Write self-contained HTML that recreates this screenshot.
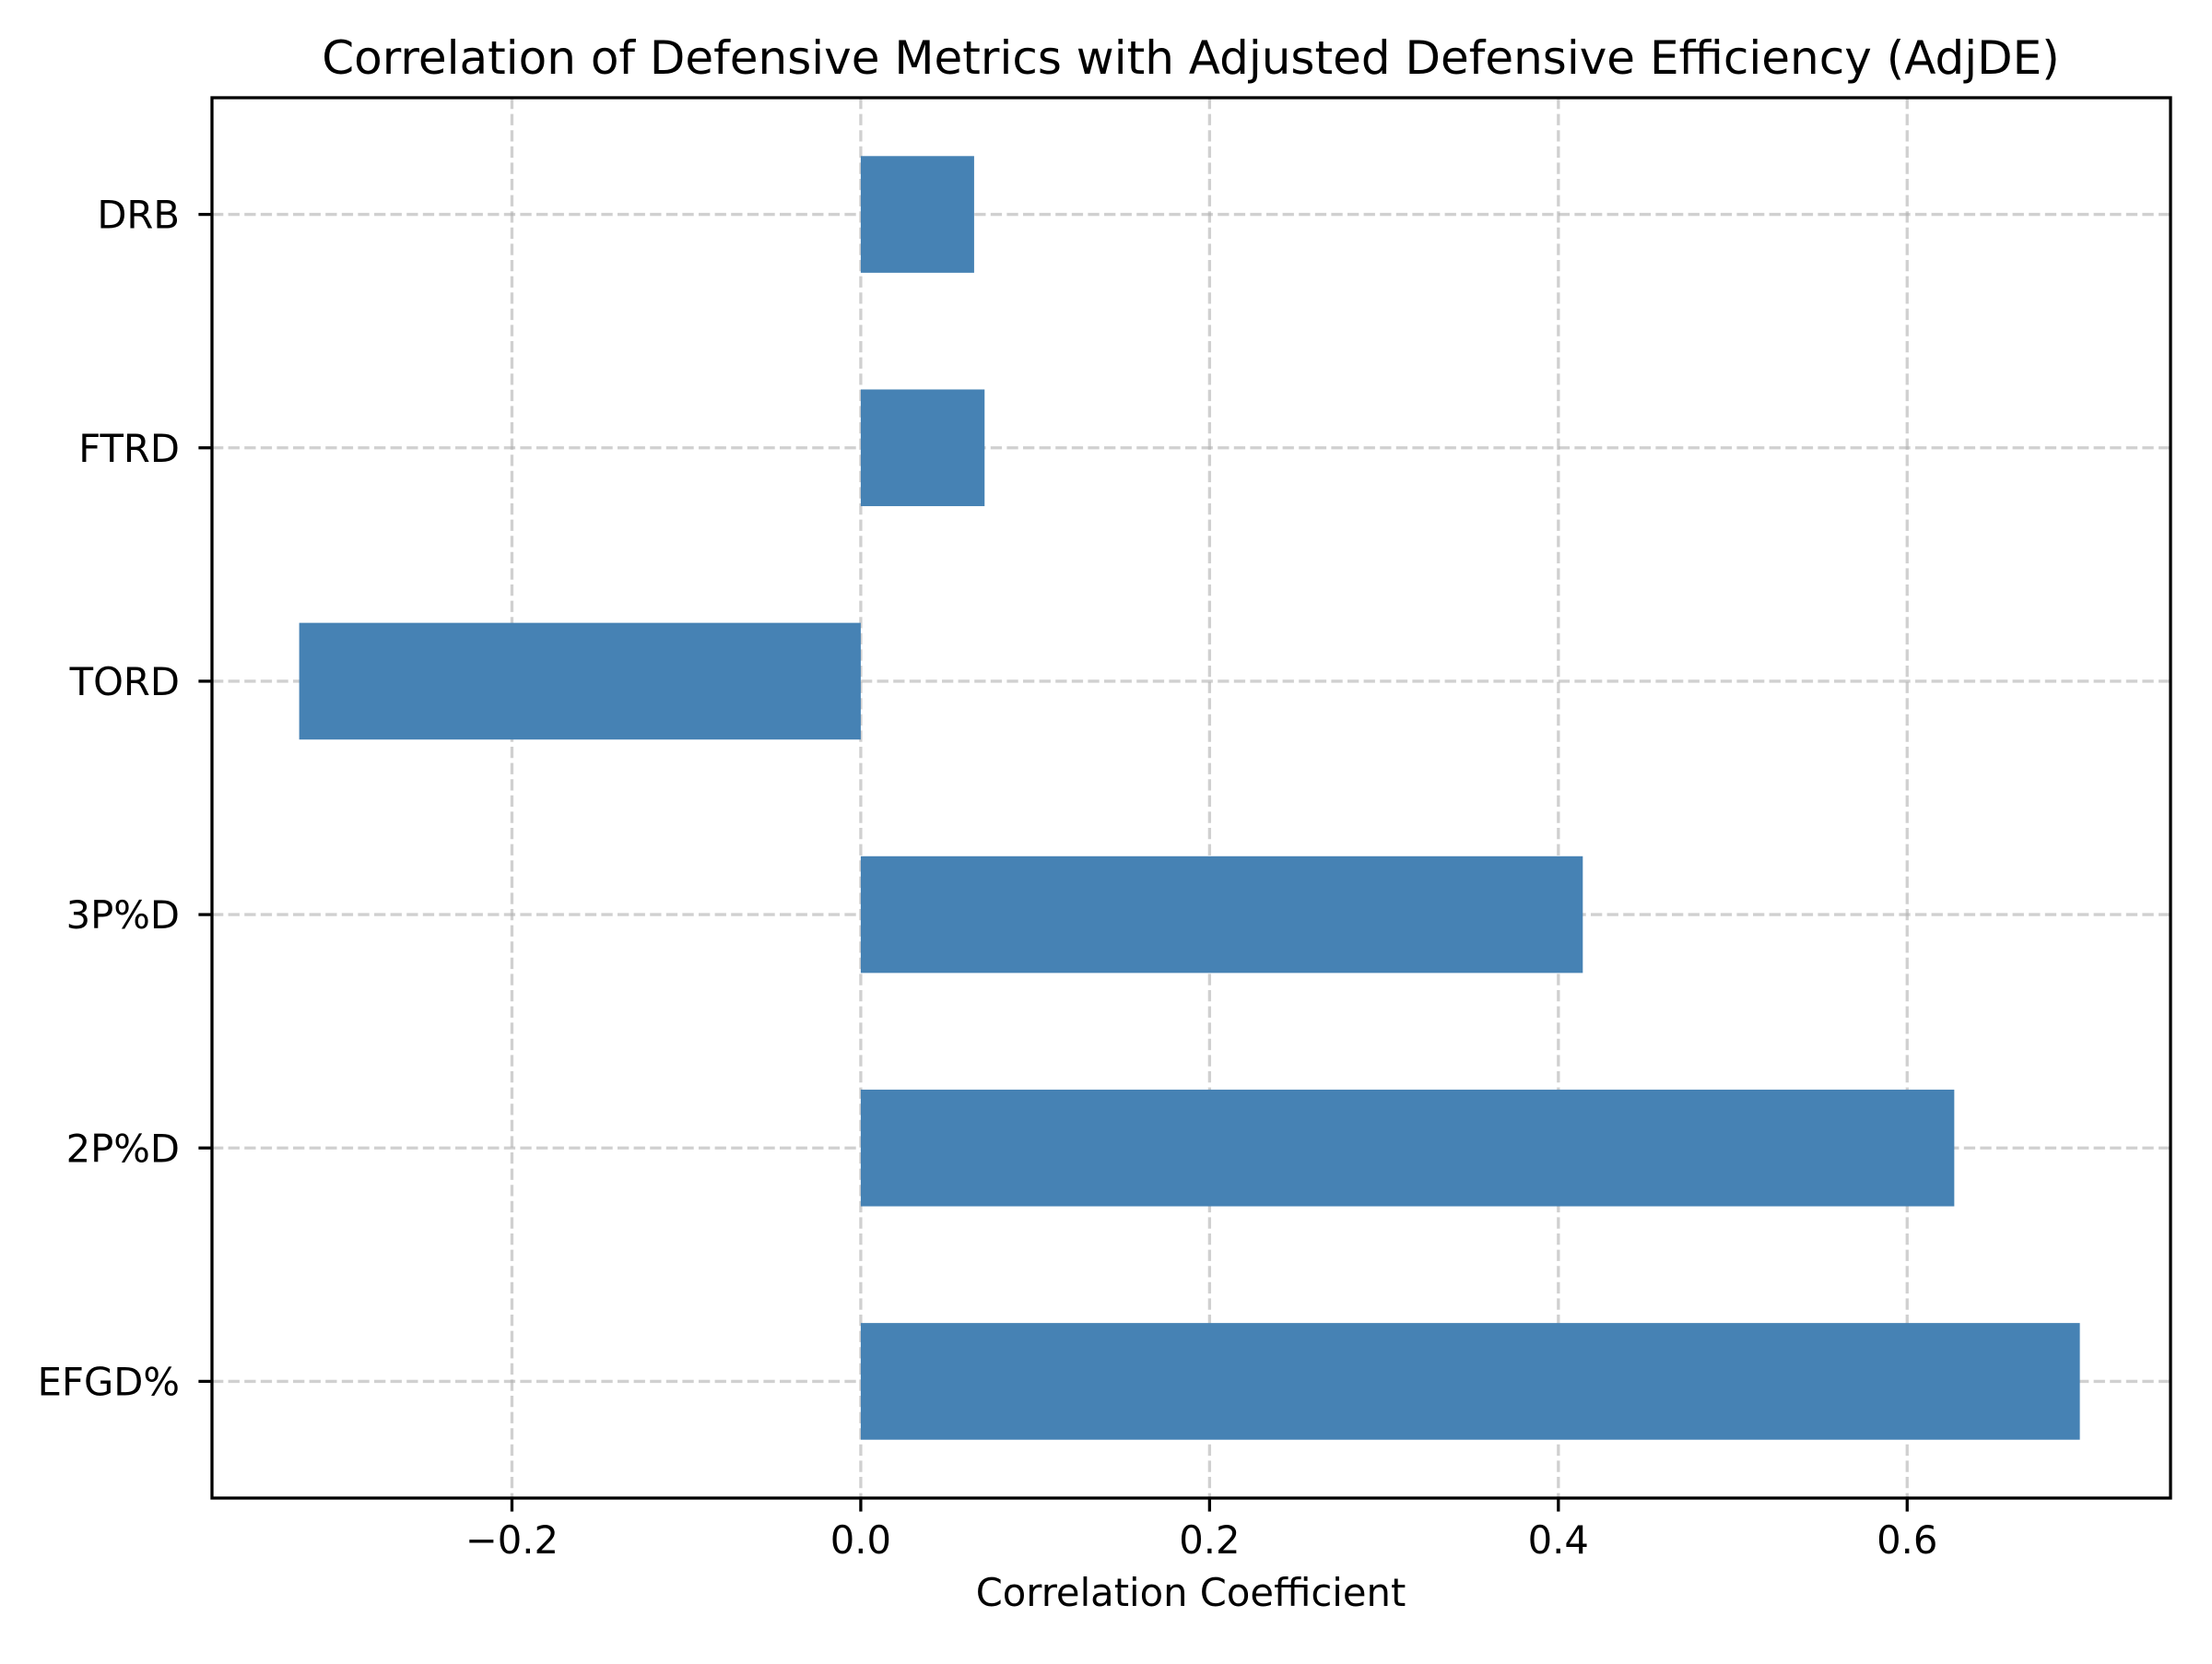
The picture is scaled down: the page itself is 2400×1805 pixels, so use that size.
<!DOCTYPE html>
<html><head><meta charset="utf-8"><style>
html,body{margin:0;padding:0;background:#fff;}
svg text{font-family:"DejaVu Sans","Liberation Sans",sans-serif;fill:#000;}
</style></head><body>
<svg id="chart" width="2400" height="1800" viewBox="0 0 2400 1800" xmlns="http://www.w3.org/2000/svg">
<rect x="0" y="0" width="2400" height="1800" fill="#fff"/>
<g id="grid"></g>
<g id="bars"></g>
<g id="axes"></g>
<text x="1292" y="80" font-size="50" text-anchor="middle">Correlation of Defensive Metrics with Adjusted Defensive Efficiency (AdjDE)</text>
<text x="1292" y="1742" font-size="41.7" text-anchor="middle">Correlation Coefficient</text>
</svg>
<script>
const categories = ["EFGD%", "2P%D", "3P%D", "TORD", "FTRD", "DRB"];
const values = [0.699, 0.627, 0.414, -0.322, 0.071, 0.065];
const xTicks = [-0.2, 0.0, 0.2, 0.4, 0.6];
const xTickLabels = ["\u22120.2", "0.0", "0.2", "0.4", "0.6"];

const L = 230, R = 2355, T = 106, B = 1625;
const xMin = -0.372, xMax = 0.751;
const NS = "http://www.w3.org/2000/svg";
function xs(v){ return L + (v - xMin) / (xMax - xMin) * (R - L); }
function ys(i){ return B + (i + 0.5) / (categories.length) * (T - B); }
const bandH = (B - T) / categories.length;
function mk(tag, attrs, parent){
  const e = document.createElementNS(NS, tag);
  for (const k in attrs) e.setAttribute(k, attrs[k]);
  parent.appendChild(e);
  return e;
}
const grid = document.getElementById('grid');
const bars = document.getElementById('bars');
const axes = document.getElementById('axes');
const gstyle = {stroke:"#b0b0b0","stroke-opacity":"0.6","stroke-width":"3.3","stroke-dasharray":"12.3 5.3"};

xTicks.forEach((t, i) => {
  const x = xs(t);
  const g = mk('line', Object.assign({x1:x, x2:x, y1:T, y2:B}, gstyle), grid);
  
  
  const tk = mk('line', {x1:x, x2:x, y1:B, y2:B+14.6, stroke:"#000","stroke-width":"3.3"}, axes);
  
  
  const lb = mk('text', {x:x, y:1685, "font-size":"41.7", "text-anchor":"middle"}, axes);
  lb.textContent = xTickLabels[i];
  
  
});
categories.forEach((c, i) => {
  const y = ys(i);
  const g = mk('line', Object.assign({x1:L, x2:R, y1:y, y2:y}, gstyle), grid);
  
  
  const v = values[i];
  const x0 = xs(0), x1 = xs(v);
  const b = mk('rect', {x:Math.min(x0,x1), y:y - bandH*0.25, width:Math.abs(x1-x0), height:bandH*0.5, fill:"#4682b4"}, bars);
  
  
  const tk = mk('line', {x1:L-14.6, x2:L, y1:y, y2:y, stroke:"#000","stroke-width":"3.3"}, axes);
  
  
  const lb = mk('text', {x:L-35, y:y+15, "font-size":"41.7", "text-anchor":"end"}, axes);
  lb.textContent = c;
  
  
});
const frame = mk('rect', {x:L, y:T, width:R-L, height:B-T, fill:"none", stroke:"#000", "stroke-width":"3.3"}, axes);


</script>
</body></html>
